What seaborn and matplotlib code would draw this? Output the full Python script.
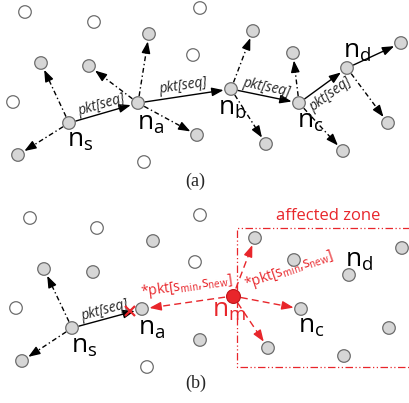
import numpy as np
import pandas as pd
import matplotlib.pyplot as plt
import seaborn as sns

# ---- panel (a): node positions (pixel space, y down) ----
A_OPEN_X = [25, 94, 200, 193, 13, 144]
A_OPEN_Y = [12, 22, 8, 55, 102, 162]
# 0 n_s, 1 n_a, 2 n_b, 3 n_c, 4 n_d, then plain relays
A_GRAY_X = [69, 138, 231, 299, 347, 41, 18, 89, 149, 197, 253, 266, 293, 343, 388, 401]
A_GRAY_Y = [123, 103, 89, 103, 68, 63, 155, 66, 34, 135, 31, 144, 53, 151, 123, 43]
A_ROUTE = [0, 1, 2, 3, 4, 15]
A_BCAST = [(0, 5), (0, 6), (1, 7), (1, 8), (1, 9), (2, 10), (2, 11), (3, 12), (3, 13), (4, 14)]
A_NAMES = {0: "s", 1: "a", 2: "b", 3: "c", 4: "d"}

# ---- panel (b) ----
B_OPEN_X = [30, 97, 200, 195, 16, 147]
B_OPEN_Y = [218, 228, 215, 262, 308, 367]
# 0 n_s, 1 n_a, 2 n_c, 3 (below n_d label), then plain relays
B_GRAY_X = [72, 142, 301, 349, 44, 22, 93, 153, 200, 255, 294, 402, 389, 268, 344]
B_GRAY_Y = [328, 309, 309, 275, 269, 361, 272, 241, 340, 238, 260, 248, 328, 348, 356]
B_MAL = (233, 296)
B_ROUTE = [(0, 1)]
B_BCAST = [(0, 4), (0, 5)]
B_ATTACK = [1, 9, 2, 13]
ZONE = (237, 228, 430, 367)

PKT = "pkt[seq]"
FAKE = r"*pkt[s$_{min}$,s$_{new}$]"

RED = "#e8262b"
EDGE = "#6d6d6d"
DASHDOT = (0, (3.5, 2, 1, 2))

sns.set_style("white")
plt.rcParams["font.family"] = ["Open Sans", "DejaVu Sans"]
plt.rcParams["mathtext.fontset"] = "custom"
plt.rcParams["mathtext.rm"] = "Open Sans"
plt.rcParams["mathtext.default"] = "regular"

fig = plt.figure(figsize=(4.10, 4.03), dpi=100)
ax = fig.add_axes([0, 0, 1, 1])
ax.set_xlim(0, 410)
ax.set_ylim(403, 0)
ax.axis("off")


def arrow(p, q, color="black", ls="-", r0=7.0, r1=7.5, lw=1.0):
    p, q = np.asarray(p, float), np.asarray(q, float)
    u = (q - p) / np.hypot(*(q - p))
    a, b = p + u * r0, q - u * r1
    head = 8
    props = dict(arrowstyle="-|>,head_length=0.7,head_width=0.26", color=color,
                 lw=lw, shrinkA=0, shrinkB=0)
    if ls == "-":
        ax.annotate("", xy=b, xytext=a, arrowprops=props, zorder=2)
    else:
        c = b - u * head
        ax.plot([a[0], c[0]], [a[1], c[1]], color=color, lw=lw, ls=ls, zorder=2)
        ax.annotate("", xy=b, xytext=c, arrowprops=props, zorder=2)


def edge_label(p, q, text, off, **kw):
    p, q = np.asarray(p, float), np.asarray(q, float)
    u = (q - p) / np.hypot(*(q - p))
    nrm = np.array([u[1], -u[0]])
    c = (p + q) / 2 + nrm * off
    ang = np.degrees(np.arctan2(-u[1], u[0]))
    ax.text(c[0], c[1], text, rotation=ang, rotation_mode="anchor",
            ha="center", va="center", **kw)


def node_label(x, y, sub, color="black"):
    ax.text(x, y, "n$_{%s}$" % sub, fontsize=19, color=color,
            ha="left", va="baseline", zorder=5)


# nodes through seaborn
nodes = pd.concat([
    pd.DataFrame({"x": A_OPEN_X + B_OPEN_X, "y": A_OPEN_Y + B_OPEN_Y, "kind": "idle"}),
    pd.DataFrame({"x": A_GRAY_X + B_GRAY_X, "y": A_GRAY_Y + B_GRAY_Y, "kind": "relay"}),
], ignore_index=True)
sns.scatterplot(data=nodes, x="x", y="y", hue="kind",
                palette={"idle": "white", "relay": "#d6d6d6"},
                s=82, edgecolor=EDGE, linewidth=0.9, legend=False, ax=ax, zorder=3)
sns.scatterplot(x=[B_MAL[0]], y=[B_MAL[1]], color=RED, s=100,
                edgecolor="#c0141a", linewidth=0.8, ax=ax, zorder=4)
ax.set_xlim(0, 410)
ax.set_ylim(403, 0)

# ---- panel (a) edges ----
A = list(zip(A_GRAY_X, A_GRAY_Y))
for i, j in zip(A_ROUTE[:-1], A_ROUTE[1:]):
    arrow(A[i], A[j])
for i, j in A_BCAST:
    arrow(A[i], A[j], ls=DASHDOT)
for k, off in enumerate([8, 10, 9, -12]):
    edge_label(A[A_ROUTE[k]], A[A_ROUTE[k + 1]], PKT, off, fontsize=10, style="italic")

label_pos_a = {0: (-2, 24), 1: (-1, 27), 2: (-13, 26), 3: (-2, 25), 4: (-4, -10)}
for i, sub in A_NAMES.items():
    dx, dy = label_pos_a[i]
    node_label(A[i][0] + dx, A[i][1] + dy, sub)

# ---- panel (b) edges ----
B = list(zip(B_GRAY_X, B_GRAY_Y))
for i, j in B_ROUTE:
    arrow(B[i], B[j])
    edge_label(B[i], B[j], PKT, 8, fontsize=10, style="italic")
for i, j in B_BCAST:
    arrow(B[i], B[j], ls=DASHDOT)
for j in B_ATTACK:
    arrow(B_MAL, B[j], color=RED, ls=(0, (5, 3)), r0=8)

ax.plot(B[1][0] - 12, B[1][1] + 2, marker="x", color=RED, ms=7, mew=1.6, zorder=5)
ax.text(187, 286, FAKE, color=RED, fontsize=10, rotation=8,
        ha="center", va="center", rotation_mode="anchor")
ax.text(289, 270, FAKE, color=RED, fontsize=10, rotation=19,
        ha="center", va="center", rotation_mode="anchor")

x0, y0, x1, y1 = ZONE
ax.plot([x1, x0, x0, x1], [y0, y0, y1, y1], color=RED, lw=0.9,
        ls=(0, (6, 2, 1, 2, 1, 2)), zorder=1)
ax.text(328, 216, "affected zone", color=RED, fontsize=12, ha="center", va="center")

node_label(B[0][0] - 1, B[0][1] + 25, "s")
node_label(B[1][0] - 4, B[1][1] + 26, "a")
node_label(B[2][0] - 3, B[2][1] + 24, "c")
node_label(B[3][0] - 4, B[3][1] - 8, "d")
node_label(212, 317, "m", color=RED)

ax.text(195, 181, "(a)", family="Liberation Serif", fontsize=13, ha="center", va="center")
ax.text(196, 383, "(b)", family="Liberation Serif", fontsize=13, ha="center", va="center")

fig.savefig("out.png", dpi=100)
